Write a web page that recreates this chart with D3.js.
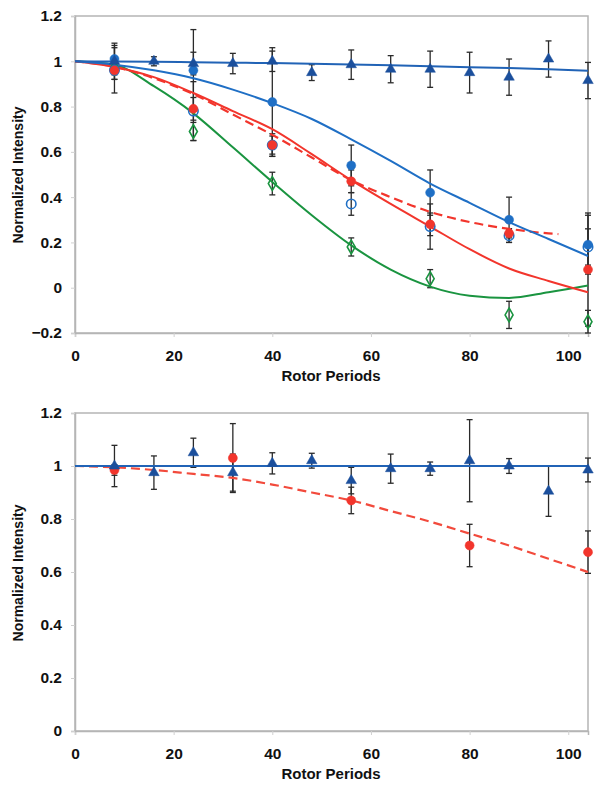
<!DOCTYPE html>
<meta charset="utf-8">
<html>
<head>
<style>
  body { margin: 0; background: #fff; }
  text { font-family: "Liberation Sans", Arial, sans-serif; font-weight: bold; fill: #111; }
</style>
</head>
<body>
<script src="https://d3js.org/d3.v7.min.js"></script>
<div id="chart"></div>
<script>

// ---- data ----
var xTicks = [0, 20, 40, 60, 80, 100];
var topYTicks = [-0.2, 0, 0.2, 0.4, 0.6, 0.8, 1, 1.2];
var botYTicks = [0, 0.2, 0.4, 0.6, 0.8, 1, 1.2];

var pts = [8, 16, 24, 32, 40, 48, 56, 64, 72, 80, 88, 96, 104];   // every 8 periods
var pts16 = [8, 24, 40, 56, 72, 88, 104];                         // every 16 periods
var fitX = [0, 8, 16, 24, 32, 40, 48, 56, 64, 72, 80, 88, 96, 104];

// top panel
var triTop    = [1.0, 1.0, 0.99, 0.99, 1.0, 0.95, 0.985, 0.965, 0.965, 0.95, 0.93, 1.01, 0.915];
var triTopErr = [0.08, 0.02, 0.05, 0.045, 0.045, 0.035, 0.065, 0.06, 0.08, 0.09, 0.08, 0.08, 0.08];
var triTopFit = [1.0, 0.999, 0.998, 0.996, 0.994, 0.992, 0.989, 0.986, 0.982, 0.978, 0.974, 0.970, 0.965, 0.958];

var blueTop    = [1.01, 0.96, 0.82, 0.54, 0.42, 0.30, 0.19];
var blueTopErr = [0.06, 0.18, 0.24, 0.09, 0.10, 0.10, 0.13];
var blueTopFit = [1.0, 0.985, 0.96, 0.925, 0.875, 0.815, 0.745, 0.655, 0.56, 0.46, 0.375, 0.29, 0.215, 0.14];

var openTop    = [0.96, 0.78, 0.63, 0.37, 0.27, 0.23, 0.18];
var openTopErr = [0.10, 0.13, 0.05, 0.05, 0.10, 0.03, 0.08];

var redTop    = [0.96, 0.79, 0.63, 0.47, 0.28, 0.24, 0.08];
var redTopErr = [0.04, 0.05, 0.04, 0.05, 0.05, 0.02, 0.25];
var redTopFit = [1.0, 0.975, 0.93, 0.86, 0.78, 0.70, 0.59, 0.475, 0.37, 0.27, 0.17, 0.085, 0.03, -0.02];

var dashX      = [0, 8, 16, 24, 32, 40, 48, 56, 64, 72, 80, 88, 96, 98];
var redDashFit = [1.0, 0.975, 0.925, 0.855, 0.765, 0.675, 0.575, 0.475, 0.40, 0.335, 0.29, 0.26, 0.24, 0.237];

var greenTop    = [0.97, 0.69, 0.46, 0.18, 0.04, -0.12, -0.15];
var greenTopErr = [0.03, 0.04, 0.05, 0.04, 0.04, 0.06, 0.05];
var greenTopFit = [1.0, 0.985, 0.89, 0.77, 0.62, 0.467, 0.32, 0.187, 0.08, 0.005, -0.035, -0.045, -0.02, 0.01];

// bottom panel
var triBot    = [1.0, 0.975, 1.05, 0.975, 1.01, 1.02, 0.945, 0.99, 0.99, 1.02, 1.0, 0.905, 0.985];
var triBotErr = [0.078, 0.063, 0.055, 0.07, 0.04, 0.028, 0.05, 0.055, 0.025, 0.155, 0.028, 0.095, 0.045];
var triBotFit = [1, 1, 1, 1, 1, 1, 1, 1, 1, 1, 1, 1, 1, 1];

var redBotX   = [8, 32, 56, 80, 104];
var redBot    = [0.985, 1.03, 0.87, 0.70, 0.675];
var redBotErr = [0.02, 0.13, 0.05, 0.08, 0.08];
var redBotFit = [1.0, 0.995, 0.985, 0.97, 0.955, 0.93, 0.90, 0.87, 0.83, 0.79, 0.745, 0.70, 0.65, 0.60];

// ---- drawing ----
var W = 600, H = 798;
var svg = d3.select("#chart").append("svg").attr("width", W).attr("height", H);

var cTri = "#1b4f9c", cTriLine = "#2163b6", cBlue = "#1f6fc5", cRed = "#f2352c", cGreen = "#1a9440";

function panel(top, bottom, yDomain, yTicks) {
  var x = d3.scaleLinear().domain([0, 104]).range([75, 588]);
  var y = d3.scaleLinear().domain(yDomain).range([bottom, top]);
  var g = svg.append("g");

  g.append("rect").attr("x", 75).attr("y", top).attr("width", 513).attr("height", bottom - top)
    .attr("fill", "none").attr("stroke", "#b5b5b5").attr("stroke-width", 1.5);

  var xa = g.append("g").attr("transform", "translate(0," + bottom + ")")
    .call(d3.axisBottom(x).tickValues(xTicks).tickSize(4).tickPadding(13));
  var ya = g.append("g").attr("transform", "translate(75,0)")
    .call(d3.axisLeft(y).tickValues(yTicks).tickSize(4).tickPadding(9).tickFormat(d3.format("")));
  [xa, ya].forEach(function(a) {
    a.select(".domain").attr("stroke", "#b5b5b5").attr("stroke-width", 1.5);
    a.selectAll(".tick line").attr("stroke", "#d0d0d0");
    a.selectAll(".tick text").style("font-size", "15.5px").attr("fill", "#111");
  });
  return {g: g, x: x, y: y};
}

function errBars(p, xs, ys, es) {
  xs.forEach(function(xv, i) {
    var cx = p.x(xv), y1 = p.y(ys[i] + es[i]), y2 = p.y(ys[i] - es[i]);
    p.g.append("line").attr("x1", cx).attr("x2", cx).attr("y1", y1).attr("y2", y2)
      .attr("stroke", "#2a2a2a").attr("stroke-width", 1.3);
    [y1, y2].forEach(function(yy) {
      p.g.append("line").attr("x1", cx - 3).attr("x2", cx + 3).attr("y1", yy).attr("y2", yy)
        .attr("stroke", "#2a2a2a").attr("stroke-width", 1.3);
    });
  });
}

function fitLine(p, xs, ys, color, dash) {
  p.g.append("path").datum(xs.map(function(d, i) { return [d, ys[i]]; }))
    .attr("d", d3.line().x(function(d) { return p.x(d[0]); }).y(function(d) { return p.y(d[1]); })
      .curve(d3.curveMonotoneX))
    .attr("fill", "none").attr("stroke", color).attr("stroke-width", dash ? 2.2 : 2)
    .attr("stroke-dasharray", dash ? "9,5" : null);
}

function marks(p, xs, ys, type, color) {
  var sym = {tri: d3.symbolTriangle, circ: d3.symbolCircle, ring: d3.symbolCircle, dia: d3.symbolDiamond}[type];
  var size = {tri: 48, circ: 64, ring: 70, dia: 55}[type];
  var open = (type == "ring" || type == "dia");
  xs.forEach(function(xv, i) {
    p.g.append("path").attr("d", d3.symbol().type(sym).size(size)())
      .attr("transform", "translate(" + p.x(xv) + "," + p.y(ys[i]) + ")")
      .attr("fill", open ? "none" : color).attr("stroke", color).attr("stroke-width", open ? 1.6 : 0.5);
  });
}

// top panel
var p1 = panel(16, 333, [-0.2, 1.2], topYTicks);
errBars(p1, pts, triTop, triTopErr);
errBars(p1, pts16, blueTop, blueTopErr);
errBars(p1, pts16, openTop, openTopErr);
errBars(p1, pts16, redTop, redTopErr);
errBars(p1, pts16, greenTop, greenTopErr);
fitLine(p1, fitX, greenTopFit, cGreen);
fitLine(p1, fitX, redTopFit, cRed);
fitLine(p1, dashX, redDashFit, cRed, true);
fitLine(p1, fitX, blueTopFit, cBlue);
fitLine(p1, fitX, triTopFit, cTriLine);
marks(p1, pts16, greenTop, "dia", cGreen);
marks(p1, pts16, openTop, "ring", cBlue);
marks(p1, pts16, redTop, "circ", cRed);
marks(p1, pts16, blueTop, "circ", cBlue);
marks(p1, pts, triTop, "tri", cTri);

// bottom panel
var p2 = panel(413, 731, [0, 1.2], botYTicks);
errBars(p2, pts, triBot, triBotErr);
errBars(p2, redBotX, redBot, redBotErr);
fitLine(p2, fitX, redBotFit, "#f24a3c", true);
fitLine(p2, fitX, triBotFit, cTriLine);
marks(p2, redBotX, redBot, "circ", cRed);
marks(p2, pts, triBot, "tri", cTri);

// axis titles
[[333, 175], [731, 573]].forEach(function(a) {
  svg.append("text").attr("x", 331).attr("y", a[0] + 48).attr("text-anchor", "middle")
    .style("font-size", "15px").text("Rotor Periods");
  svg.append("text").attr("transform", "translate(23," + a[1] + ") rotate(-90)")
    .attr("text-anchor", "middle").style("font-size", "14px").text("Normalized Intensity");
});

</script>
</body>
</html>
